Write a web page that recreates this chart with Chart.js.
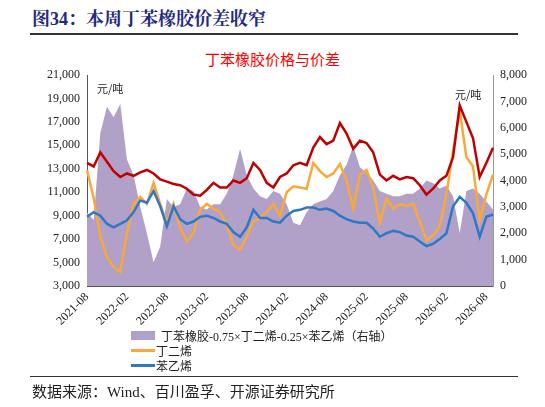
<!DOCTYPE html>
<html><head><meta charset="utf-8">
<script src="https://cdn.jsdelivr.net/npm/chart.js@4"></script>
<style>
body{margin:0;width:545px;height:407px;background:#fff;position:relative;overflow:hidden;font-family:"Liberation Serif","Noto Sans CJK SC",serif}
#title{position:absolute;left:32px;top:4px;font-size:18px;font-weight:bold;color:#1F2A80;font-family:"Liberation Serif","Noto Serif CJK SC","Noto Sans CJK SC",serif}
.hr{position:absolute;left:30px;width:488px;height:1px;background:#333}
#ctitle{position:absolute;left:0;width:545px;top:48px;text-align:center;color:#FF0000;font-size:15px;font-family:"Noto Sans CJK SC",sans-serif}
#wrap{position:absolute;left:0;top:40px;width:545px;height:290px}
.unit{position:absolute;font-size:11px;color:#222;font-family:"Noto Sans CJK SC",sans-serif}
#legend{position:absolute;left:131px;top:328px;font-size:12px;color:#222;font-family:"Liberation Serif","Noto Sans CJK SC",serif}
#legend div{height:15px;display:flex;align-items:center}
#src{position:absolute;left:32px;top:380px;font-size:15px;color:#222;font-family:"Liberation Serif","Noto Sans CJK SC",serif}
</style></head><body>
<div id="title">图34：本周丁苯橡胶价差收窄</div>
<div class="hr" style="top:33px;height:1.5px"></div>
<div id="ctitle">丁苯橡胶价格与价差</div>
<div id="wrap"><canvas id="c" width="545" height="290" style="width:545px;height:290px"></canvas></div>
<div class="unit" style="left:97px;top:80px">元/吨</div>
<div class="unit" style="left:455px;top:86px">元/吨</div>
<div id="legend"></div>
<div class="hr" style="top:376px"></div>
<div id="src">数据来源：Wind、百川盈孚、开源证券研究所</div>
<script>
const startYear=2021, startMonth=8, nMonths=62;
const labels=[];for(let i=0;i<nMonths;i++){const t=startYear*12+startMonth-1+i;labels.push(Math.floor(t/12)+'-'+String(t%12+1).padStart(2,'0'));}
const sbr=[13500,13200,14400,13600,12800,12300,12600,12400,12700,12900,12600,12100,11900,11700,11600,11300,10800,10700,11200,11800,11400,11400,12000,11800,12200,13500,12900,11800,11400,12300,12600,13300,13500,13300,14800,15700,15100,15400,16900,16000,14700,15400,15200,14400,12500,12000,12400,12100,12300,12200,11600,10800,11300,12000,12400,14000,18400,17000,15600,12300,13500,14800];
const butadiene=[12900,10500,7200,5500,4600,4200,7500,10000,10600,10000,11800,10000,8400,10000,8000,6800,7500,9500,10000,9600,9300,8200,6500,6100,7200,8500,8800,9300,10000,9000,11000,11500,11400,11300,13500,12800,12300,12600,13400,12000,9600,12500,12900,11400,8400,10500,9600,10000,9800,10000,8500,6900,7300,8100,10800,14500,18000,14000,13200,8600,10800,12500];
const styrene=[8900,9300,9000,8300,8000,8300,8600,9300,10300,10100,11100,9800,8100,9800,8700,8300,8500,8900,9000,8800,8500,8300,7600,7200,8000,9500,8800,8800,8500,8400,9000,9400,9500,9700,9700,9500,9600,9400,9000,8700,8500,8400,8400,7900,7200,7500,7700,7600,7300,7200,6800,6400,6600,7000,7500,9800,10600,10100,9200,7200,8900,9100];
const spread=[2800,2500,5800,6800,6400,6900,4800,4200,3000,2000,900,1500,3300,3000,3100,3700,3600,3000,2900,3100,3100,3500,4200,5200,4200,3700,3400,3300,3600,3500,3100,2400,2300,2800,3100,3200,3300,3600,4200,4600,5300,4500,4300,4000,3600,3500,3400,3400,3500,3500,3700,4000,3900,3700,3800,3400,2000,3600,3700,3500,3200,2900];
const names=['丁苯橡胶-0.75×丁二烯-0.25×苯乙烯（右轴）','丁二烯','苯乙烯','丁苯橡胶'];
const colors=['#B1A0C7','#F9A93A','#2F78C8','#C00000'];
const leg=document.getElementById('legend');
leg.innerHTML=`<div><span style="display:inline-block;width:24px;height:9px;background:${colors[0]};margin-right:6px"></span>${names[0]}</div>`+
[1,2].map(i=>`<div><span style="display:inline-block;width:24px;height:3px;background:${colors[i]};margin-right:1px"></span>${names[i]}</div>`).join('');
const tf={family:'"Liberation Serif",serif',size:12};
new Chart(document.getElementById('c'),{
 type:'line',
 data:{labels,datasets:[
  {label:names[3],data:sbr,borderColor:colors[3],borderWidth:2.5,pointRadius:0,yAxisID:'y',order:1,tension:0},
  {label:names[2],data:styrene,borderColor:colors[2],borderWidth:2.5,pointRadius:0,yAxisID:'y',order:2,tension:0},
  {label:names[1],data:butadiene,borderColor:colors[1],borderWidth:2.5,pointRadius:0,yAxisID:'y',order:3,tension:0},
  {label:names[0],data:spread,borderColor:colors[0],backgroundColor:colors[0],borderWidth:0,fill:'origin',pointRadius:0,yAxisID:'y1',order:4,tension:0}
 ]},
 options:{responsive:false,animation:false,devicePixelRatio:1,
  layout:{padding:{top:35,bottom:0,left:0,right:0}},
  plugins:{legend:{display:false},tooltip:{enabled:false}},
  scales:{
   x:{grid:{display:false,drawTicks:true,tickLength:4},border:{color:'#555'},offset:false,
      ticks:{autoSkip:false,maxRotation:45,minRotation:45,font:tf,color:'#222',padding:0,
        callback:(v,i)=>i%6===0?labels[i]:''},
      afterFit:a=>{a.height=44;}},
   y:{position:'left',min:3000,max:21000,grid:{display:false,tickLength:4},border:{color:'#555'},
      ticks:{stepSize:2000,autoSkip:false,font:tf,color:'#222',callback:v=>v.toLocaleString('en-US')},
      afterFit:a=>{a.width=87;}},
   y1:{position:'right',min:0,max:8000,grid:{display:false,tickLength:4},border:{color:'#999'},
      ticks:{stepSize:1000,autoSkip:false,font:tf,color:'#222',callback:v=>v.toLocaleString('en-US')},
      afterFit:a=>{a.width=52;}}
  }}
});
</script>
</body></html>
